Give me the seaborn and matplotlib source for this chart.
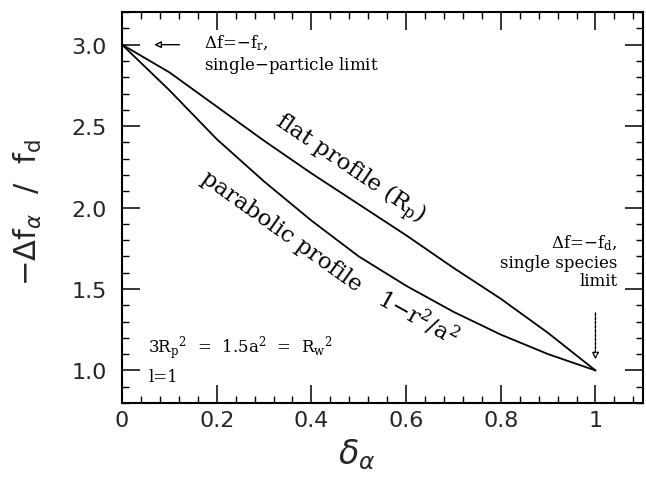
import numpy as np
import pandas as pd
import matplotlib
matplotlib.use("Agg")
import matplotlib.pyplot as plt
import seaborn as sns
from matplotlib.ticker import MultipleLocator

# ---- data ----
delta = [0.0, 0.1, 0.2, 0.3, 0.4, 0.5, 0.6, 0.7, 0.8, 0.9, 1.0]
flat_profile = [3.0, 2.83, 2.62, 2.41, 2.21, 2.02, 1.83, 1.63, 1.44, 1.23, 1.0]
parabolic_profile = [3.0, 2.72, 2.42, 2.16, 1.92, 1.70, 1.52, 1.36, 1.22, 1.10, 1.0]
x_ticks = [0, 0.2, 0.4, 0.6, 0.8, 1.0]
x_tick_labels = ["0", "0.2", "0.4", "0.6", "0.8", "1"]
y_ticks = [1.0, 1.5, 2.0, 2.5, 3.0]
y_tick_labels = ["1.0", "1.5", "2.0", "2.5", "3.0"]

df = pd.DataFrame({
    "delta": delta * 2,
    "value": flat_profile + parabolic_profile,
    "profile": ["flat"] * len(delta) + ["parabolic"] * len(delta),
})

sns.set_theme(style="ticks")
plt.rcParams["font.family"] = ["DejaVu Sans"]

fig = plt.figure(figsize=(6.46, 4.85), dpi=100)
ax = fig.add_axes([0.189, 0.167, 0.806, 0.806])

sns.lineplot(data=df, x="delta", y="value", hue="profile",
             palette={"flat": "black", "parabolic": "black"},
             linewidth=1.3, legend=False, ax=ax, sort=False)

ax.set_xlim(0, 1.1)
ax.set_ylim(0.8, 3.2)
ax.set_xticks(x_ticks)
ax.set_xticklabels(x_tick_labels)
ax.set_yticks(y_ticks)
ax.set_yticklabels(y_tick_labels)
ax.xaxis.set_minor_locator(MultipleLocator(0.04))
ax.yaxis.set_minor_locator(MultipleLocator(0.1))
ax.tick_params(which="both", direction="in", top=True, right=True, color="black")
ax.tick_params(which="major", length=13, width=1.1, labelsize=16)
ax.tick_params(axis="x", which="major", pad=5)
ax.tick_params(axis="y", which="major", pad=11)
ax.tick_params(which="minor", length=5, width=1.0)
for s in ax.spines.values():
    s.set_linewidth(1.5)
    s.set_color("black")

ax.set_xlabel(r"$\delta_{\alpha}$", fontsize=24)
ax.xaxis.set_label_coords(0.45, -0.085)
ax.set_ylabel(r"$-\Delta\mathrm{f}_{\alpha}\ \ /\ \ \mathrm{f}_{\mathrm{d}}$", fontsize=22)
ax.yaxis.set_label_coords(-0.15, 0.49)

serif = dict(family="DejaVu Serif", math_fontfamily="dejavuserif", color="black")

# top-left annotation
ax.annotate("", xy=(0.062, 3.0), xytext=(0.127, 3.0),
            arrowprops=dict(arrowstyle="-|>", fc="white", ec="black", lw=1.0, mutation_scale=10))
ax.text(0.173, 2.945, "$\\Delta$f=$-$f$_{\\rm r}$,\nsingle$-$particle limit",
        ha="left", va="center", fontsize=12, linespacing=1.1, **serif)

# right annotation
ax.text(1.046, 1.673, "$\\Delta$f=$-$f$_{\\rm d}$,\nsingle species\nlimit",
        ha="right", va="center", multialignment="right", fontsize=12, linespacing=1.1, **serif)
ax.annotate("", xy=(1.0, 1.05), xytext=(1.0, 1.37),
            arrowprops=dict(arrowstyle="-|>", fc="white", ec="black", lw=1.0,
                            linestyle=(0, (2, 1)), mutation_scale=10))

# curve labels
ax.text(0.48, 2.24, "flat profile (R$_{\\rm p}$)", rotation=-34, rotation_mode="anchor",
        ha="center", va="center", fontsize=16.5, **serif)
ax.text(0.337, 1.858, "parabolic profile", rotation=-35.5, rotation_mode="anchor",
        ha="center", va="center", fontsize=16.5, **serif)
ax.text(0.625, 1.33, "1$-$r$^{2}$/a$^{2}$", rotation=-29, rotation_mode="anchor",
        ha="center", va="center", fontsize=16.5, **serif)

# bottom-left note
ax.text(0.055, 1.142, "3R$_{\\rm p}{}^{2}$  =  1.5a$^{2}$  =  R$_{\\rm w}{}^{2}$",
        ha="left", va="center", fontsize=12, **serif)
ax.text(0.055, 0.963, "l=1", ha="left", va="center", fontsize=12, **serif)

fig.savefig("out.png", dpi=100, facecolor="white")
